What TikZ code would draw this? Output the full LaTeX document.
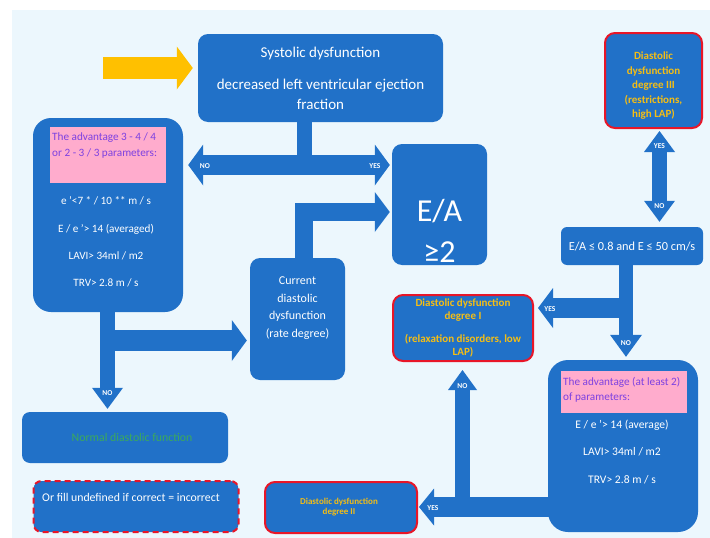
\documentclass[tikz,border=0pt]{standalone}
\usepackage{fontspec}
\setmainfont{Carlito}
\usetikzlibrary{arrows.meta,calc}
\definecolor{boxblue}{RGB}{33,113,200}
\definecolor{bgblue}{RGB}{236,247,253}
\definecolor{redb}{RGB}{232,22,40}
\definecolor{yel}{RGB}{245,190,20}
\definecolor{purp}{RGB}{125,65,225}
\definecolor{pinkb}{RGB}{255,172,205}
\definecolor{greent}{RGB}{60,170,90}
\definecolor{arrowyel}{RGB}{255,192,0}
\begin{document}
\begin{tikzpicture}[x=1pt,y=-1pt,
  bx/.style={fill=boxblue, draw=none, rounded corners=10pt, inner sep=0pt, text=white, align=center},
  redbx/.style={bx, draw=redb, line width=2pt},
  tx/.style={inner sep=0pt, text=white, align=center},
  ytx/.style={inner sep=0pt, text=yel, align=center},
  lbl/.style={inner sep=0pt, text=white, font=\fontsize{7.5}{8}\selectfont\bfseries},
  shaft/.style={draw=boxblue, line width=#1},
  tipA/.style 2 args={-{Triangle[width=#1,length=#2,line width=0pt]}}
]
\useasboundingbox (0,0) rectangle (710,538);
\fill[white] (0,0) rectangle (710,538);
\fill[bgblue] (12,10) rectangle (710,538);

% ---------- boxes ----------
\node[bx, minimum width=245, minimum height=88, font=\fontsize{15}{20}\selectfont] (sys) at (320.5,78)
  {Systolic dysfunction\\[12pt]decreased left ventricular ejection\\fraction};

\node[bx, minimum width=95, minimum height=121] (ea) at (439.5,204.5) {};
\node[tx, anchor=base, font=\fontsize{32}{36}\selectfont] (eaT1) at (439.5,221) {E/A};
\node[tx, anchor=base, font=\fontsize{32}{36}\selectfont] (eaT2) at (439.5,262) {≥2};

\node[bx, minimum width=95, minimum height=122] (cur) at (297.5,319) {};
\node[tx, font=\fontsize{12}{17.5}\selectfont] (curT) at (297.5,308)
  {Current\\diastolic\\dysfunction\\(rate degree)};

\node[bx, rounded corners=18pt, minimum width=150, minimum height=194] (adv1) at (108,215) {};
\node[fill=pinkb, inner sep=0pt, minimum width=116, minimum height=56] (pk1) at (108,154.5) {};
\node[inner sep=0pt, anchor=north west, align=left, text=purp, font=\fontsize{11.2}{16}\selectfont] (pk1T) at (52,133)
  {The advantage 3 - 4 / 4\\or 2 - 3 / 3 parameters:};
\node[tx, anchor=base, font=\fontsize{11.2}{13}\selectfont] (a1) at (106,204) {e '<7 * / 10 ** m / s};
\node[tx, anchor=base, font=\fontsize{11.2}{13}\selectfont] (a2) at (106,232) {E / e '> 14 (averaged)};
\node[tx, anchor=base, font=\fontsize{11.2}{13}\selectfont] (a3) at (106,259.5) {LAVI> 34ml / m2};
\node[tx, anchor=base, font=\fontsize{11.2}{13}\selectfont] (a4) at (106,286) {TRV> 2.8 m / s};

\node[bx, rounded corners=8pt, minimum width=206, minimum height=51] (normal) at (125,437.5) {};
\node[inner sep=0pt, text=greent, font=\fontsize{11.8}{14}\selectfont] (normalT) at (132,437.5) {Normal diastolic function};

\node[bx, draw=redb, line width=2pt, dash pattern=on 6pt off 4pt, rounded corners=8pt, minimum width=205, minimum height=51] (undef) at (136,506.5) {};
\node[tx, font=\fontsize{11.8}{14}\selectfont] (undefT) at (131,497) {Or fill undefined if correct = incorrect};

\node[redbx, minimum width=152, minimum height=51] (deg2) at (341,507.5) {};
\node[ytx, font=\fontsize{9}{9.5}\selectfont\bfseries] (deg2T) at (339,507) {Diastolic dysfunction\\degree II};

\node[redbx, minimum width=140, minimum height=66, text=yel, font=\fontsize{11}{13}\selectfont\bfseries] (deg1) at (463,328)
  {Diastolic dysfunction\\degree I\\[10pt](relaxation disorders, low\\LAP)};

\node[redbx, minimum width=97, minimum height=95] (deg3) at (653.5,80.5) {};
\node[ytx, font=\fontsize{11}{14.5}\selectfont\bfseries] (deg3T) at (653.5,86)
  {Diastolic\\dysfunction\\degree III\\(restrictions,\\high LAP)};

\node[bx, rounded corners=6pt, minimum width=142, minimum height=38, font=\fontsize{12.3}{14}\selectfont] (ea08) at (632,246)
  {E/A ≤ 0.8 and E ≤ 50 cm/s};

\node[bx, rounded corners=20pt, minimum width=150, minimum height=172] (adv2) at (623,446) {};
\node[fill=pinkb, inner sep=0pt, minimum width=126, minimum height=42] (pk2) at (624,392) {};
\node[inner sep=0pt, anchor=north west, align=left, text=purp, font=\fontsize{11.2}{15}\selectfont] (pk2T) at (563,377)
  {The advantage (at least 2)\\of parameters:};
\node[tx, anchor=base, font=\fontsize{11.6}{13}\selectfont] (b1) at (622,428) {E / e '> 14 (average)};
\node[tx, anchor=base, font=\fontsize{11.6}{13}\selectfont] (b2) at (622,455.5) {LAVI> 34ml / m2};
\node[tx, anchor=base, font=\fontsize{11.6}{13}\selectfont] (b3) at (622,483) {TRV> 2.8 m / s};

% ---------- arrows ----------
\coordinate (ys) at (103,68);
\draw[draw=arrowyel, line width=22pt, -{Triangle[width=43pt,length=16pt,line width=0pt]}, shorten >=5pt] (ys) -- (sys.west |- ys);

\coordinate (j1) at (304.5,165);
\draw[shaft=15pt] (sys.south -| j1) -- (j1);
\draw[shaft=20pt, tipA={41pt}{15pt}, shorten >=5pt] (j1) -- (adv1.east |- j1);
\draw[shaft=20pt, tipA={41pt}{15pt}, shorten >=2pt] (j1) -- (ea.west |- j1);

\coordinate (j2) at (304,212);
\draw[shaft=18pt, line join=miter, tipA={40pt}{15pt}, shorten >=2pt] (cur.north -| j2) -- (j2) -- (ea.west |- j2);

\coordinate (j3) at (107.5,340.5);
\draw[shaft=15pt, tipA={31pt}{21pt}, shorten >=3pt] (adv1.south -| j3) -- (normal.north -| j3);
\draw[shaft=21pt, tipA={41pt}{15pt}, shorten >=3pt] (j3) -- (cur.west |- j3);

\coordinate (j5) at (659.5,180);
\draw[shaft=15pt, {Triangle[width=31pt,length=21pt,line width=0pt]}-{Triangle[width=31pt,length=21pt,line width=0pt]}, shorten <=2pt, shorten >=5pt]
  (deg3.south -| j5) -- (ea08.north -| j5);

\coordinate (j4) at (626,308);
\draw[shaft=14pt, tipA={32pt}{22pt}, shorten >=3pt] (ea08.south -| j4) -- (adv2.north -| j4);
\draw[shaft=20pt, tipA={40pt}{15pt}, shorten >=4pt] (j4) -- (deg1.east |- j4);

\coordinate (j6) at (462.5,507);
\draw[shaft=20pt, tipA={37pt}{15pt}, shorten >=1pt] (adv2.center |- j6) -- (deg2.east |- j6);
\draw[shaft=15pt, tipA={29pt}{20pt}, shorten >=8pt] (j6) -- (deg1.south -| j6);

% ---------- labels ----------
\node[lbl] (l1) at (205,166) {NO};
\node[lbl] (l2) at (375,166) {YES};
\node[lbl] (l3) at (107.5,393) {NO};
\node[lbl] (l4) at (659.5,146) {YES};
\node[lbl] (l5) at (659.5,206) {NO};
\node[lbl] (l6) at (626,343) {NO};
\node[lbl] (l7) at (550,309) {YES};
\node[lbl] (l8) at (433,508) {YES};
\node[lbl] (l9) at (462.5,386) {NO};
\end{tikzpicture}
\end{document}
